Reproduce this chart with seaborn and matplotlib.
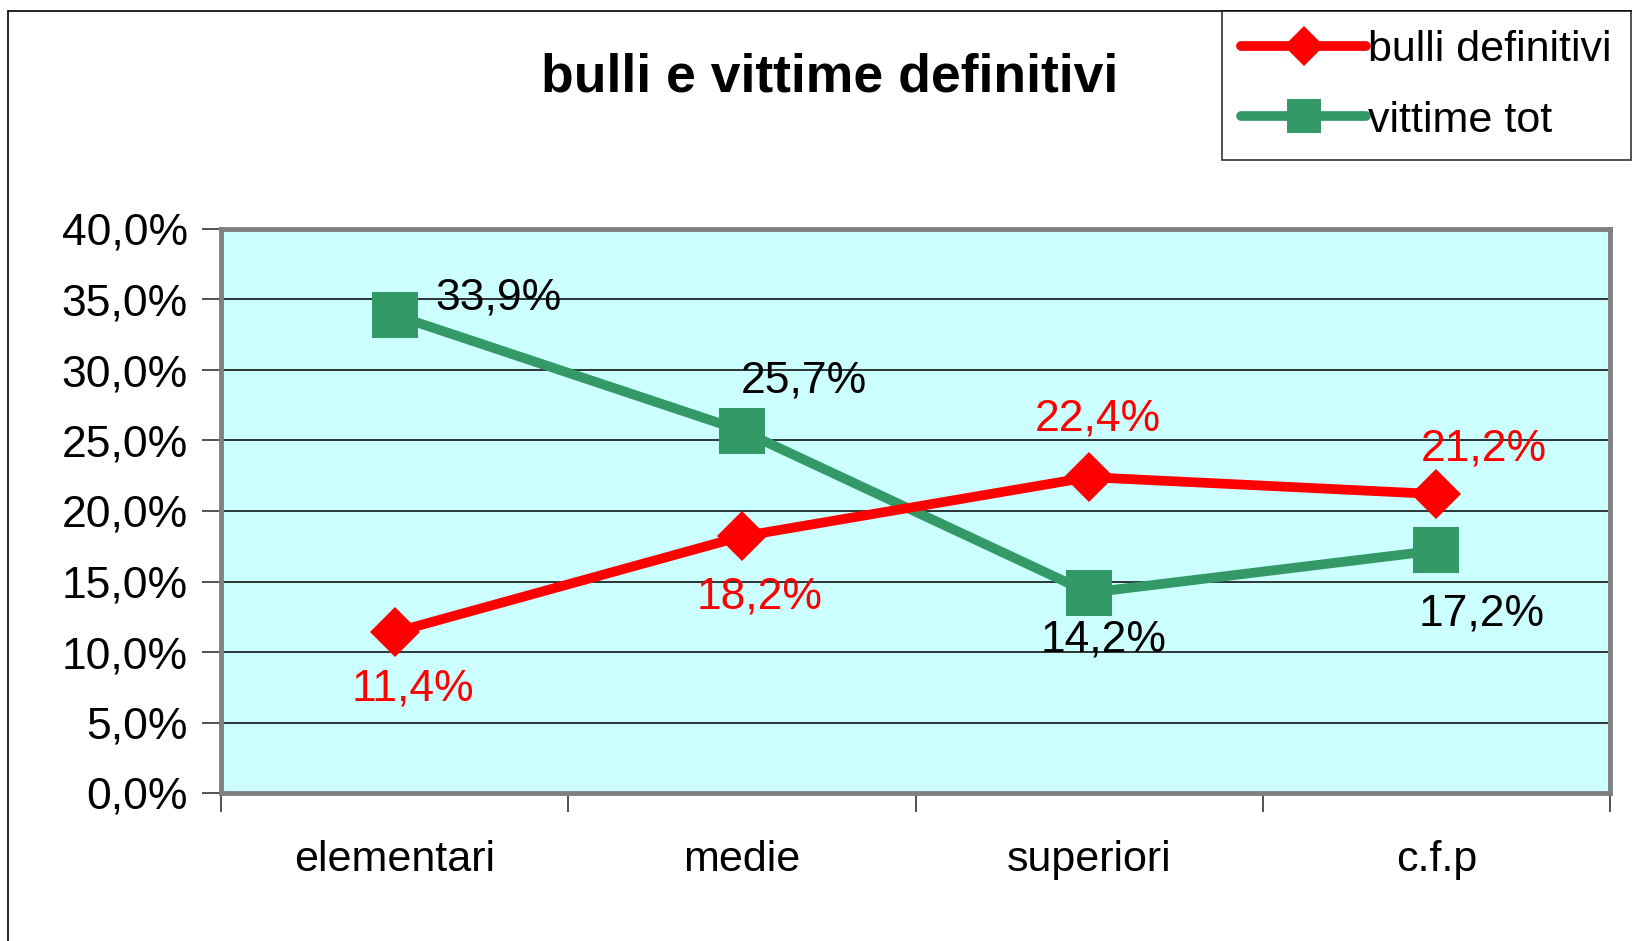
import matplotlib
matplotlib.use("Agg")
import matplotlib.pyplot as plt
import seaborn as sns
import pandas as pd
from matplotlib.ticker import FuncFormatter, FixedLocator
from matplotlib.lines import Line2D

categories = ["elementari", "medie", "superiori", "c.f.p"]
bulli = [11.4, 18.2, 22.4, 21.2]
vittime = [33.9, 25.7, 14.2, 17.2]
series_names = ["bulli definitivi", "vittime tot"]
title = "bulli e vittime definitivi"

sns.set_theme(style="white")
plt.rcParams["font.family"] = ["Liberation Sans", "DejaVu Sans"]
plt.rcParams["text.color"] = "black"
plt.rcParams["xtick.color"] = "black"
plt.rcParams["ytick.color"] = "black"

W, H = 1632, 941
fig = plt.figure(figsize=(W / 100, H / 100), dpi=100)
ax = fig.add_axes([221 / W, 1 - 793 / H, (1610 - 221) / W, (793 - 229) / H])
ax.set_facecolor("#CCFFFF")

red = "#FF0000"
green = "#339966"

df = pd.DataFrame({"cat": categories, "bulli": bulli, "vittime": vittime})
sns.lineplot(data=df, x="cat", y="bulli", ax=ax, color=red, lw=7, marker="D",
             markersize=25, markeredgewidth=0, sort=False, label=series_names[0], zorder=4)
sns.lineplot(data=df, x="cat", y="vittime", ax=ax, color=green, lw=7, marker="s",
             markersize=33, markeredgewidth=0, sort=False, label=series_names[1], zorder=3)

ax.set_ylim(0, 40)
ax.set_xlim(-0.5, 3.5)
ax.yaxis.set_major_locator(FixedLocator([i * 5 for i in range(9)]))
ax.yaxis.set_major_formatter(FuncFormatter(lambda v, p: f"{v:.1f}%".replace(".", ",")))
ax.grid(axis="y", color="black", lw=1.1, zorder=1)
ax.set_axisbelow(True)
ax.set_xlabel("")
ax.set_ylabel("")

ax.set_xticks(range(len(categories)))
ax.set_xticklabels(categories, fontsize=31)
ax.set_xticks([-0.5, 0.5, 1.5, 2.5, 3.5], minor=True)
ax.tick_params(axis="x", which="major", length=0, pad=34, labelcolor="black")
ax.tick_params(axis="x", which="minor", length=14, width=1.2, color="#333333", direction="out", bottom=True)
ax.tick_params(axis="y", length=14, width=1.2, color="#333333", direction="out", labelsize=32,
               pad=10, left=True, labelcolor="black")

for s in ax.spines.values():
    s.set_color("#808080")
    s.set_linewidth(3.5)
    s.set_visible(True)

# data labels
b_off = [(18, -57), (18, -61), (9, 58), (47, 45)]
v_off = [(104, 17), (62, 50), (15, -47), (45, -64)]
for i, (v, o) in enumerate(zip(bulli, b_off)):
    ax.annotate(f"{v:.1f}%".replace(".", ","), (i, v), xytext=o, textcoords="offset pixels",
                ha="center", va="center", fontsize=32, color=red, zorder=5)
for i, (v, o) in enumerate(zip(vittime, v_off)):
    ax.annotate(f"{v:.1f}%".replace(".", ","), (i, v), xytext=o, textcoords="offset pixels",
                ha="center", va="center", fontsize=32, color="black", zorder=5)

ax.get_legend().remove()
handles = [Line2D([], [], color=red, lw=7, marker="D", markersize=20, markeredgewidth=0, solid_capstyle="round"),
           Line2D([], [], color=green, lw=7, marker="s", markersize=24, markeredgewidth=0, solid_capstyle="round")]
leg = fig.legend(handles, series_names, loc="upper left", bbox_to_anchor=(1222 / W, 1 - 11 / H),
                 fontsize=31, frameon=True, fancybox=False, borderaxespad=0, handlelength=2.9,
                 handletextpad=0.05, borderpad=0.45, labelspacing=0.7)
leg.get_frame().set_edgecolor("black")
leg.get_frame().set_linewidth(1.2)
leg.get_frame().set_facecolor("white")
for t in leg.get_texts():
    t.set_color("black")

fig.text(830 / W, 1 - 77 / H, title, ha="center", va="center", fontsize=38.5, fontweight="bold", color="black")

# outer chart frame
fig.add_artist(Line2D([8 / W, 8 / W], [0, 1 - 11 / H], color="black", lw=1.2, transform=fig.transFigure))
fig.add_artist(Line2D([8 / W, 1], [1 - 11 / H, 1 - 11 / H], color="black", lw=1.2, transform=fig.transFigure))

fig.savefig("out.png", dpi=100)
